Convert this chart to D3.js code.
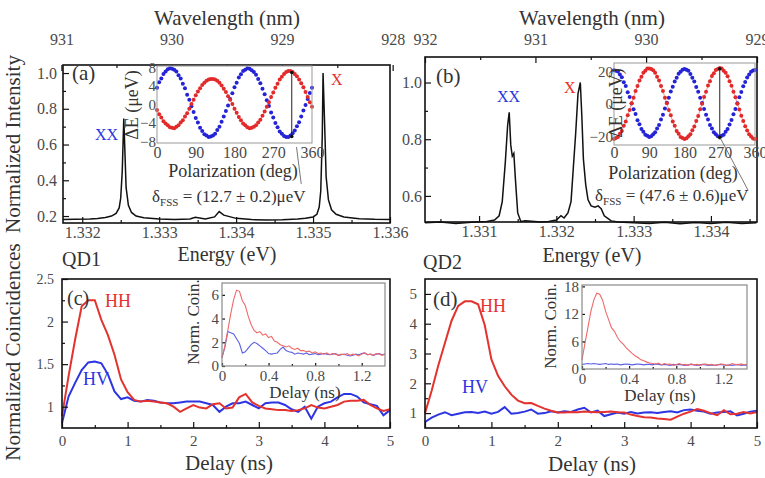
<!DOCTYPE html>
<html><head><meta charset="utf-8">
<script src="https://cdn.jsdelivr.net/npm/d3@7"></script>
<style>body{margin:0;background:#fff} svg{display:block} text{font-family:"Liberation Serif","DejaVu Serif","Noto Serif",serif}</style>
</head><body><svg id="c" width="765" height="478"></svg>
<script>
const HC = 1239.84;
// ---------- Panel (a) spectrum ----------
const specA_E = [1.33175,1.3319,1.3321,1.3322,1.3323,1.33238,1.33244,1.33248,1.33250,1.33252,1.33254,1.33255,1.33257,1.33260,1.33264,1.3327,1.3328,1.3330,1.3332,1.3334,1.33347,1.3336,1.33372,1.33378,1.33384,1.3340,1.3342,1.3344,1.3346,1.3348,1.3349,1.3350,1.33505,1.33508,1.33510,1.33512,1.33513,1.33515,1.33517,1.33520,1.33524,1.3353,1.3354,1.3356,1.3358,1.3360];
const specA_I = [0.180,0.182,0.183,0.186,0.192,0.200,0.215,0.245,0.30,0.45,0.745,0.62,0.36,0.26,0.22,0.20,0.19,0.183,0.181,0.184,0.193,0.183,0.195,0.225,0.205,0.187,0.180,0.178,0.179,0.183,0.187,0.195,0.21,0.25,0.34,0.65,1.0,0.72,0.42,0.29,0.235,0.21,0.195,0.185,0.182,0.181];
// ---------- Panel (b) spectrum ----------
const specB_E = [1.3303,1.3305,1.3307,1.3309,1.3311,1.33120,1.33126,1.33130,1.33134,1.33137,1.33139,1.33141,1.33143,1.33145,1.33147,1.33150,1.33154,1.3316,1.3318,1.3319,1.3320,1.33206,1.3321,1.33215,1.33219,1.33222,1.33225,1.33228,1.33231,1.33233,1.33235,1.33238,1.33241,1.33245,1.3325,1.33254,1.33258,1.33262,1.33267,1.33271,1.3328,1.3330,1.3332,1.3334,1.3336,1.3338,1.3340,1.3342,1.3344,1.33459];
const specB_I = [0.505,0.508,0.503,0.507,0.510,0.515,0.53,0.58,0.72,0.85,0.895,0.78,0.74,0.75,0.66,0.54,0.51,0.512,0.508,0.51,0.515,0.53,0.522,0.54,0.58,0.70,0.82,0.96,1.0,0.88,0.73,0.64,0.586,0.565,0.56,0.565,0.555,0.53,0.52,0.512,0.508,0.505,0.503,0.507,0.502,0.506,0.503,0.507,0.503,0.505];
// ---------- tick labels ----------
const wlTicksA = [931,930,929,928], wlMinorA = [930.5,929.5,928.5];
const wlTicksB = [932,931,930,929], wlMinorB = [931.5,930.5,929.5];
const enTicksA = [1.332,1.333,1.334,1.335,1.336], enMinorA = [1.3325,1.3335,1.3345,1.3355];
const enTicksB = [1.331,1.332,1.333,1.334], enMinorB = [1.3305,1.3315,1.3325,1.3335,1.3345];
// ---------- polarization insets ----------
const polAngle = [0,5,10,15,20,25,30,35,40,45,50,55,60,65,70,75,80,85,90,95,100,105,110,115,120,125,130,135,140,145,150,155,160,165,170,175,180,185,190,195,200,205,210,215,220,225,230,235,240,245,250,255,260,265,270,275,280,285,290,295,300,305,310,315,320,325,330,335,340,345,350,355,360];
const polA_blue = [3.6,4.8,5.6,6.6,7.1,7.6,7.8,7.7,7.5,7.1,6.3,5.6,4.5,3.5,2.1,1.0,-0.4,-1.6,-2.9,-3.9,-5.0,-5.7,-6.4,-6.7,-7.0,-6.9,-6.7,-6.3,-5.5,-4.8,-3.7,-2.6,-1.4,-0.2,1.2,2.4,
  3.7,4.7,5.8,6.5,7.2,7.5,7.8,7.7,7.4,7.0,6.4,5.5,4.6,3.4,2.2,0.9,-0.3,-1.7,-2.8,-4.0,-4.9,-5.8,-6.3,-6.8,-7.0,-7.0,-6.7,-6.2,-5.6,-4.7,-3.8,-2.6,-1.3,-0.1,1.2,2.5,3.6];
const polA_red = [-1.2,-2.1,-2.8,-3.6,-4.1,-4.5,-4.9,-5.0,-5.1,-4.8,-4.5,-3.9,-3.4,-2.6,-1.9,-0.9,0.1,1.0,2.0,2.8,
  3.5,4.2,4.7,5.1,5.4,5.5,5.5,5.4,5.1,4.7,4.1,3.4,2.7,1.8,1.0,0.1,-0.9,-1.8,-2.7,-3.4,
  -4.1,-4.5,-4.9,-5.1,-5.0,-4.8,-4.5,-3.9,-3.3,-2.4,-1.5,-0.5,0.5,1.6,2.6,3.6,4.5,5.4,6.0,6.6,
  7.0,7.2,7.2,7.0,6.6,6.1,5.4,4.6,3.7,2.7,1.6,0.5,-0.5];
const polB_blue = [20.6,20.3,19.8,18.0,16.3,13.2,10.9,7.1,4.2,0.3,-3.2,-6.1,-9.9,-12.4,-15.3,-16.9,-18.8,-19.3,-20.1,
  -19.6,-18.4,-17.3,-14.9,-12.8,-9.5,-6.6,-2.8,0.7,3.8,7.6,10.5,13.7,16.0,18.4,19.7,20.9,21.3,
  20.9,20.2,18.3,16.0,13.7,10.4,7.5,3.8,0.6,-3.1,-6.6,-9.4,-12.8,-14.9,-17.3,-18.4,-19.7,-20.0,
  -19.4,-18.8,-16.9,-15.3,-12.5,-9.8,-6.2,-3.1,0.4,4.1,7.3,10.8,13.4,16.2,18.0,19.7,20.4,20.7];
const polB_red = [-21.4,-20.7,-20.1,-18.1,-16.4,-13.3,-10.7,-6.9,-3.6,0.5,3.8,7.9,10.9,14.3,16.6,19.1,20.3,21.6,21.7,
  21.4,20.6,19.1,16.6,14.3,10.9,7.9,3.8,0.5,-3.6,-6.9,-10.7,-13.3,-16.4,-18.1,-20.1,-20.7,-21.4,
  -20.9,-19.7,-18.5,-16.0,-13.7,-10.3,-7.3,-3.2,0.1,4.2,7.5,11.3,13.9,17.0,18.7,20.7,21.3,22.0,
  21.6,20.3,19.0,16.9,13.9,11.2,7.5,4.1,0.2,-3.3,-7.2,-10.4,-13.6,-16.1,-18.4,-19.8,-21.0,-21.3];
// ---------- coincidences ----------
const delay = [0,0.1,0.2,0.3,0.4,0.5,0.6,0.7,0.8,0.9,1.0,1.1,1.2,1.3,1.4,1.5,1.6,1.7,1.8,1.9,2.0,2.1,2.2,2.3,2.4,2.5,2.6,2.7,2.8,2.9,3.0,3.1,3.2,3.3,3.4,3.5,3.6,3.7,3.8,3.9,4.0,4.1,4.2,4.3,4.4,4.5,4.6,4.7,4.8,4.9,5.0];
const qd1_HH = [0.89,1.36,1.79,2.18,2.25,2.25,2.02,1.84,1.61,1.32,1.17,1.08,1.06,1.07,1.06,1.05,1.04,1.0,0.94,0.98,1.02,0.99,0.98,1.03,1.04,0.98,0.99,1.11,1.15,1.05,1.01,0.98,0.97,0.96,0.96,0.95,0.96,0.98,1.02,0.99,0.98,1.0,1.02,1.06,1.07,1.07,1.08,1.02,0.98,0.95,0.97];
const qd1_HV = [0.81,1.12,1.28,1.43,1.52,1.53,1.51,1.38,1.18,1.09,1.11,1.07,1.06,1.08,1.07,1.05,1.04,1.04,1.05,1.06,1.06,1.06,1.04,1.02,0.94,1.0,1.04,1.04,1.06,1.02,0.98,1.04,1.05,1.05,1.02,0.97,0.94,1.0,0.86,1.0,1.04,1.06,1.11,1.15,1.15,1.12,1.05,1.03,1.01,0.9,0.96];
const qd2_HH = [1.0,1.75,2.6,3.35,4.1,4.6,4.75,4.75,4.65,3.95,2.8,2.25,1.9,1.62,1.42,1.33,1.34,1.24,1.15,1.08,1.02,1.02,1.04,1.03,1.05,1.04,1.03,1.04,1.05,1.03,1.02,0.95,0.9,0.86,0.85,0.82,0.8,0.78,0.88,0.98,1.05,1.14,1.08,1.0,0.93,1.1,0.96,0.98,1.04,0.99,1.04];
const qd2_HV = [0.7,0.85,0.95,1.03,0.93,0.98,1.03,1.04,1.0,1.05,0.98,1.04,1.2,0.98,1.0,1.05,1.12,0.98,1.0,1.06,1.02,1.06,1.04,1.12,1.18,1.02,1.08,0.9,0.96,1.02,0.98,1.04,0.99,1.02,1.03,1.0,1.04,1.06,1.02,1.1,1.12,1.08,1.05,0.98,1.02,1.04,1.06,0.92,0.98,1.05,1.08];
const delayInset = [0,0.025,0.05,0.075,0.1,0.125,0.15,0.175,0.2,0.225,0.25,0.275,0.3,0.325,0.35,0.375,0.4,0.425,0.45,0.475,0.5,0.525,0.55,0.575,0.6,0.625,0.65,0.675,0.7,0.725,0.75,0.775,0.8,0.825,0.85,0.875,0.9,0.925,0.95,0.975,1.0,1.025,1.05,1.075,1.1,1.125,1.15,1.175,1.2,1.225,1.25,1.275,1.3,1.325,1.35,1.375,1.4];
const ins1_HH = [0.7,1.7,3.0,4.4,5.6,6.4,6.3,5.5,5.1,4.2,3.5,3.0,2.8,2.9,2.6,2.7,2.4,2.5,2.1,2.0,1.8,1.7,1.6,1.7,1.5,1.4,1.5,1.3,1.3,1.2,1.25,1.1,1.2,1.05,1.1,1.0,1.1,0.95,1.05,1.0,0.9,1.0,0.95,1.05,0.9,1.0,0.95,0.85,1.0,1.1,0.95,1.0,0.9,1.05,1.0,0.9,1.0];
const ins1_HV = [0.7,1.6,2.9,2.8,2.7,2.3,1.9,1.1,1.2,1.5,1.8,2.0,1.9,1.7,1.5,1.3,1.05,1.0,1.05,1.1,1.4,1.6,1.3,1.2,1.15,1.0,1.1,1.05,1.0,1.1,0.95,1.0,1.05,0.95,1.0,1.05,1.0,0.95,1.0,1.05,0.9,0.95,1.0,0.9,0.85,0.9,1.0,0.95,1.05,1.1,0.95,1.0,0.9,1.0,1.05,0.95,1.0];
const ins2_HH = [2.0,5.6,9.0,12.5,15.0,16.5,16.3,15.0,12.6,10.8,9.0,8.2,6.9,6.0,5.4,4.6,4.0,3.4,2.9,2.5,2.0,1.8,1.5,1.3,1.2,1.1,1.3,0.9,1.2,1.0,1.1,0.8,1.0,1.2,0.9,1.0,0.8,1.1,0.9,1.0,0.8,1.0,1.1,0.9,1.0,0.8,0.9,1.1,1.0,0.8,0.9,1.2,1.0,0.9,1.1,0.9,1.0];
const ins2_HV = [1.0,1.1,1.2,1.1,1.2,1.1,1.0,1.1,1.2,1.0,1.1,1.0,1.1,0.9,1.0,1.1,1.0,0.9,1.0,1.1,1.0,0.9,1.0,1.0,0.9,1.1,1.0,0.9,1.0,0.9,0.8,1.0,0.9,1.0,0.9,0.8,0.9,1.0,0.9,0.8,0.9,1.0,0.9,0.8,0.9,0.8,0.9,1.0,0.9,0.8,0.9,0.8,0.9,1.0,0.8,0.9,0.8];

// ---------- drawing ----------
const svg = d3.select("#c");
const RED = "#e4322e", BLUE = "#2d35e2", LRED = "#ee6a6a", LBLUE = "#5b5fe6";
const TXT = "#333", TCK = "#4a4a4a", FONT = '"Liberation Serif","DejaVu Serif","Noto Serif",serif';

function styleAxis(g, fs) {
  g.attr("font-family", FONT);
  g.select(".domain").remove();
  g.selectAll(".tick line").attr("stroke", "#111").attr("stroke-width", 1.2);
  g.selectAll(".tick text").attr("font-size", fs).attr("fill", TCK).style("font-family", FONT);
  return g;
}
function label(x, y, s, o = {}) {
  const t = svg.append("text").attr("x", x).attr("y", y).text(s)
    .attr("font-size", o.fs || 20).attr("fill", o.fill || TXT)
    .attr("text-anchor", o.anchor || "start").style("font-family", FONT);
  if (o.rot) t.attr("transform", `rotate(-90,${x},${y})`);
  return t;
}
function frame(x0, y0, x1, y1, col, sw) {
  svg.append("rect").attr("x", x0).attr("y", y0).attr("width", x1 - x0).attr("height", y1 - y0)
    .attr("fill", "none").attr("stroke", col).attr("stroke-width", sw);
}
function bg(x0, y0, x1, y1) {
  svg.append("rect").attr("x", x0).attr("y", y0).attr("width", x1 - x0).attr("height", y1 - y0).attr("fill", "#fff");
}

// ===== Panel (a) =====
const PA = {l: 63, r: 390, t: 65, b: 223};
const xA = d3.scaleLinear().domain([1.33175, 1.3360]).range([PA.l, PA.r]);
const yA = d3.scaleLinear().domain([0.161, 1.045]).range([PA.b, PA.t]);
svg.append("path").datum(d3.range(specA_E.length))
  .attr("d", d3.line().x(i => xA(specA_E[i])).y(i => yA(specA_I[i])))
  .attr("fill", "none").attr("stroke", "#111").attr("stroke-width", 1.5);

// ===== Panel (b) =====
const PB = {l: 425, r: 757, t: 57, b: 222};
const xB = d3.scaleLinear().domain([HC / 932, HC / 929]).range([PB.l, PB.r]);
const yB = d3.scaleLinear().domain([0.508, 1.09]).range([PB.b, PB.t]);
svg.append("path").datum(d3.range(specB_E.length))
  .attr("d", d3.line().x(i => xB(specB_E[i])).y(i => yB(specB_I[i])))
  .attr("fill", "none").attr("stroke", "#111").attr("stroke-width", 1.5);

function spectrumAxes(P, x, y, enT, enM, wlT, wlM, yT, yM, tickPadY) {
  styleAxis(svg.append("g").attr("transform", `translate(0,${P.b})`)
    .call(d3.axisBottom(x).tickValues(enT).tickFormat(d3.format(".3f")).tickSize(-6).tickPadding(4)), 16);
  styleAxis(svg.append("g").attr("transform", `translate(0,${P.b})`)
    .call(d3.axisBottom(x).tickValues(enM).tickFormat("").tickSize(-3)), 16);
  styleAxis(svg.append("g").attr("transform", `translate(0,${P.t})`)
    .call(d3.axisTop(x).tickValues(wlT.map(w => HC / w)).tickFormat((d, i) => wlT[i]).tickSize(-6).tickPadding(P.t - 45)), 16);
  styleAxis(svg.append("g").attr("transform", `translate(0,${P.t})`)
    .call(d3.axisTop(x).tickValues(wlM.map(w => HC / w)).tickFormat("").tickSize(-3)), 16);
  styleAxis(svg.append("g").attr("transform", `translate(${P.l},0)`)
    .call(d3.axisLeft(y).tickValues(yT).tickFormat(d3.format(".1f")).tickSize(-6).tickPadding(tickPadY)), 16);
  styleAxis(svg.append("g").attr("transform", `translate(${P.l},0)`)
    .call(d3.axisLeft(y).tickValues(yM).tickFormat("").tickSize(-3)), 16);
  frame(P.l, P.t, P.r, P.b, "#111", 1.6);
}
spectrumAxes(PA, xA, yA, enTicksA, enMinorA, wlTicksA, wlMinorA, [0.2, 0.4, 0.6, 0.8, 1.0], [0.3, 0.5, 0.7, 0.9], 6);
spectrumAxes(PB, xB, yB, enTicksB, enMinorB, wlTicksB, wlMinorB, [0.6, 0.8, 1.0], [0.7, 0.9], 3);

label(20, 144, "Normalized Intensity", {fs: 21, anchor: "middle", rot: true});
label(227, 25, "Wavelength (nm)", {fs: 21, anchor: "middle"});
label(592, 25, "Wavelength (nm)", {fs: 21, anchor: "middle"});
label(227, 261, "Energy (eV)", {fs: 20, anchor: "middle"});
label(592, 262, "Energy (eV)", {fs: 20, anchor: "middle"});
label(72, 80, "(a)", {fs: 21});
label(436, 83, "(b)", {fs: 21});
label(95, 140, "XX", {fs: 16, fill: BLUE});
label(331, 85, "X", {fs: 16, fill: RED});
label(497, 102, "XX", {fs: 16, fill: BLUE});
label(564, 93, "X", {fs: 16, fill: RED});

// ===== polarization insets =====
function polInset(I, dom, yT, blue, red, arrowAng, arrTop, arrBot, xPad) {
  bg(I.l, I.t, I.r, I.b);
  const x = d3.scaleLinear().domain([0, 360]).range([I.l, I.r]);
  const y = d3.scaleLinear().domain(dom).range([I.b, I.t]);
  svg.append("path").datum(polAngle.map((a, i) => [a, red[i]]))
    .attr("d", d3.line().x(d => x(d[0])).y(d => y(d[1])))
    .attr("fill", "none").attr("stroke", "#f29a9a").attr("stroke-width", 1);
  svg.append("g").selectAll("circle").data(polAngle.map((a, i) => [a, blue[i]])).join("circle")
    .attr("cx", d => x(d[0])).attr("cy", d => y(d[1])).attr("r", 2).attr("fill", "#2424d6");
  svg.append("g").selectAll("circle").data(polAngle.map((a, i) => [a, red[i]])).join("circle")
    .attr("cx", d => x(d[0])).attr("cy", d => y(d[1])).attr("r", 2).attr("fill", "#e32a2a");
  svg.append("line").attr("x1", x(arrowAng)).attr("x2", x(arrowAng)).attr("y1", y(arrTop)).attr("y2", y(arrBot))
    .attr("stroke", "#222").attr("stroke-width", 1);
  svg.append("circle").attr("cx", x(arrowAng)).attr("cy", y(arrTop)).attr("r", 1.8).attr("fill", "#111");
  svg.append("circle").attr("cx", x(arrowAng)).attr("cy", y(arrBot)).attr("r", 1.8).attr("fill", "#111");
  frame(I.l, I.t, I.r, I.b, "#999", 1);
  styleAxis(svg.append("g").attr("transform", `translate(0,${I.b})`)
    .call(d3.axisBottom(x).tickValues([0, 90, 180, 270, 360]).tickSize(0).tickPadding(xPad)), 16);
  styleAxis(svg.append("g").attr("transform", `translate(${I.l},0)`)
    .call(d3.axisLeft(y).tickValues(yT).tickSize(0).tickPadding(1)), 15);
  return {x, y};
}
const IA = {l: 157, r: 312, t: 66, b: 143};
const sa = polInset(IA, [-8.3, 8.3], [-8, -4, 0, 4, 8], polA_blue, polA_red, 313, 6.9, -6.9, 4);
label(138, 105, "ΔE (μeV)", {fs: 18, anchor: "middle", rot: true});
label(233, 177, "Polarization (deg)", {fs: 18, anchor: "middle"});
svg.append("line").attr("x1", sa.x(324)).attr("y1", IA.b + 4).attr("x2", sa.x(335)).attr("y2", 184)
  .attr("stroke", "#555").attr("stroke-width", 0.8);
const tA = label(152, 202, "δ", {fs: 17});
tA.append("tspan").attr("font-size", 11).attr("dy", 4).text("FSS");
tA.append("tspan").attr("dy", -4).text(" = (12.7 ± 0.2)μeV");

const IB = {l: 614, r: 755, t: 63, b: 145};
const sb = polInset(IB, [-25, 25], [-20, 0, 20], polB_blue, polB_red, 270, 21.5, -20.5, 2);
label(622, 103, "ΔE (μeV)", {fs: 18, anchor: "middle", rot: true});
label(673, 179, "Polarization (deg)", {fs: 18, anchor: "middle"});
svg.append("line").attr("x1", sb.x(272)).attr("y1", sb.y(-21)).attr("x2", sb.x(342)).attr("y2", 190)
  .attr("stroke", "#555").attr("stroke-width", 0.8);
const tB = label(595, 201, "δ", {fs: 17});
tB.append("tspan").attr("font-size", 11).attr("dy", 4).text("FSS");
tB.append("tspan").attr("dy", -4).text(" = (47.6 ± 0.6)μeV");

// ===== Panels (c),(d) =====
function coincPanel(P, dom, yT, yM, yFmt, hh, hv, yfs) {
  const x = d3.scaleLinear().domain([0, 5]).range([P.l, P.r]);
  const y = d3.scaleLinear().domain(dom).range([P.b, P.t]);
  const ln = d3.line().x((d, i) => x(delay[i])).y(d => y(d));
  svg.append("path").datum(hv).attr("d", ln).attr("fill", "none").attr("stroke", BLUE).attr("stroke-width", 2);
  svg.append("path").datum(hh).attr("d", ln).attr("fill", "none").attr("stroke", RED).attr("stroke-width", 2);
  styleAxis(svg.append("g").attr("transform", `translate(0,${P.b})`)
    .call(d3.axisBottom(x).tickValues([0, 1, 2, 3, 4, 5]).tickFormat(d3.format("d")).tickSize(-6).tickPadding(7)), 15);
  styleAxis(svg.append("g").attr("transform", `translate(0,${P.b})`)
    .call(d3.axisBottom(x).tickValues([0.5, 1.5, 2.5, 3.5, 4.5]).tickFormat("").tickSize(-3)), 15);
  styleAxis(svg.append("g").attr("transform", `translate(${P.l},0)`)
    .call(d3.axisLeft(y).tickValues(yT).tickFormat(yFmt).tickSize(-6).tickPadding(8)), yfs);
  styleAxis(svg.append("g").attr("transform", `translate(${P.l},0)`)
    .call(d3.axisLeft(y).tickValues(yM).tickFormat("").tickSize(-3)), yfs);
  frame(P.l, P.t, P.r, P.b, "#111", 1.6);
  return {x, y};
}
function coincInset(I, ymax, yT, hh, hv) {
  bg(I.l, I.t, I.r, I.b);
  const x = d3.scaleLinear().domain([0, 1.4]).range([I.l, I.r]);
  const y = d3.scaleLinear().domain([0, ymax]).range([I.b, I.t]);
  const ln = d3.line().x((d, i) => x(delayInset[i])).y(d => y(d));
  svg.append("path").datum(hv).attr("d", ln).attr("fill", "none").attr("stroke", LBLUE).attr("stroke-width", 1.1);
  svg.append("path").datum(hh).attr("d", ln).attr("fill", "none").attr("stroke", LRED).attr("stroke-width", 1.1);
  styleAxis(svg.append("g").attr("transform", `translate(0,${I.b})`)
    .call(d3.axisBottom(x).tickValues([0, 0.4, 0.8, 1.2]).tickFormat(d => d === 0 ? "0" : d3.format(".1f")(d)).tickSize(-3).tickPadding(4)), 15);
  styleAxis(svg.append("g").attr("transform", `translate(0,${I.b})`)
    .call(d3.axisBottom(x).tickValues([0.2, 0.6, 1.0]).tickFormat("").tickSize(-2)), 15);
  styleAxis(svg.append("g").attr("transform", `translate(${I.l},0)`)
    .call(d3.axisLeft(y).tickValues(yT).tickFormat(d3.format("d")).tickSize(-3).tickPadding(3)), 15);
  frame(I.l, I.t, I.r, I.b, "#8a8a8a", 1.2);
}
const PC = {l: 62, r: 390, t: 279, b: 428};
coincPanel(PC, [0.75, 2.5], [1, 1.5, 2, 2.5], [1.25, 1.75, 2.25], d3.format("~g"), qd1_HH, qd1_HV, 14);
const PD = {l: 425, r: 757, t: 279, b: 428};
coincPanel(PD, [0.5, 5.5], [1, 2, 3, 4, 5], [1.5, 2.5, 3.5, 4.5], d3.format("d"), qd2_HH, qd2_HV, 15);

coincInset({l: 222, r: 385, t: 283, b: 366}, 7, [0, 2, 4, 6], ins1_HH, ins1_HV);
coincInset({l: 582, r: 747, t: 285, b: 369}, 18.3, [0, 6, 12, 18], ins2_HH, ins2_HV);

label(199, 322, "Norm. Coin.", {fs: 17, anchor: "middle", rot: true});
label(305, 398, "Delay (ns)", {fs: 17, anchor: "middle"});
label(556, 326, "Norm. Coin.", {fs: 17, anchor: "middle", rot: true});
label(660, 401, "Delay (ns)", {fs: 17, anchor: "middle"});

label(20, 352, "Normalized Coincidences", {fs: 21, anchor: "middle", rot: true});
label(229, 470, "Delay (ns)", {fs: 21, anchor: "middle"});
label(592, 471, "Delay (ns)", {fs: 21, anchor: "middle"});
label(62, 266, "QD1", {fs: 20});
label(423, 269, "QD2", {fs: 20});
label(67, 305, "(c)", {fs: 20});
label(433, 306, "(d)", {fs: 21});
label(105, 307, "HH", {fs: 18, fill: RED});
label(83, 385, "HV", {fs: 18, fill: BLUE});
label(480, 312, "HH", {fs: 18, fill: RED});
label(462, 393, "HV", {fs: 18, fill: BLUE});
</script></body></html>
